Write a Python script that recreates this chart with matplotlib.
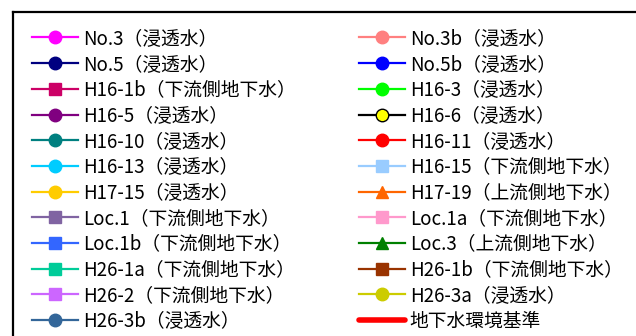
import matplotlib
matplotlib.use("Agg")
import matplotlib.pyplot as plt
from matplotlib.lines import Line2D

plt.rcParams["font.family"] = ["Noto Sans CJK JP", "DejaVu Sans"]

# legend entries, left column then right column
left_labels = [
    "No.3（浸透水）", "No.5（浸透水）", "H16-1b（下流側地下水）", "H16-5（浸透水）",
    "H16-10（浸透水）", "H16-13（浸透水）", "H17-15（浸透水）", "Loc.1（下流側地下水）",
    "Loc.1b（下流側地下水）", "H26-1a（下流側地下水）", "H26-2（下流側地下水）", "H26-3b（浸透水）",
]
left_colors = [
    "#FF00FF", "#000080", "#CC0066", "#800080", "#008080", "#00CCFF",
    "#FFCC00", "#8064A2", "#3366FF", "#00CC99", "#CC66FF", "#336699",
]
left_markers = ["o", "o", "s", "o", "o", "o", "o", "s", "s", "s", "s", "o"]

right_labels = [
    "No.3b（浸透水）", "No.5b（浸透水）", "H16-3（浸透水）", "H16-6（浸透水）",
    "H16-11（浸透水）", "H16-15（下流側地下水）", "H17-19（上流側地下水）", "Loc.1a（下流側地下水）",
    "Loc.3（上流側地下水）", "H26-1b（下流側地下水）", "H26-3a（浸透水）",
]
right_colors = [
    "#FF8080", "#0000FF", "#00FF00", "#000000", "#FF0000", "#99CCFF",
    "#FF6600", "#FF99CC", "#008000", "#993300", "#CCCC00",
]
right_faces = [
    "#FF8080", "#0000FF", "#00FF00", "#FFFF00", "#FF0000", "#99CCFF",
    "#FF6600", "#FF99CC", "#008000", "#993300", "#CCCC00",
]
right_markers = ["o", "o", "o", "o", "o", "s", "^", "s", "^", "s", "o"]

standard_label = "地下水環境基準"
standard_color = "#FF0000"

W, H = 636, 336
fig = plt.figure(figsize=(W / 100, H / 100), dpi=100)

# outer frame (cropped plot area)
ax = fig.add_axes([13 / W, -0.2, 1.0, (H - 12) / H + 0.2])
ax.set_xticks([])
ax.set_yticks([])
for sp in ax.spines.values():
    sp.set_linewidth(1.6)
    sp.set_color("black")


def make_handle(color, marker, face=None, ms=9):
    size = ms - 0.5 if marker == "s" else ms
    edge = color if face is None or face == color else "black"
    return Line2D([], [], color=color, lw=1.6, marker=marker, markersize=size,
                  markerfacecolor=face or color, markeredgecolor=edge, markeredgewidth=1.0)


left_handles = [make_handle(c, m) for c, m in zip(left_colors, left_markers)]
right_handles = [make_handle(c, m, f) for c, m, f in zip(right_colors, right_markers, right_faces)]
right_handles.append(Line2D([], [], color=standard_color, lw=4, solid_capstyle="round"))

fs = 13.5
common = dict(loc="upper left", frameon=False, fontsize=fs, handlelength=33 / fs,
              handletextpad=3.6 / fs, labelspacing=0.25, borderpad=0, borderaxespad=0)

leg1 = fig.legend(left_handles, left_labels, bbox_to_anchor=(32 / W, (H - 28) / H), **common)
leg2 = fig.legend(right_handles, right_labels + [standard_label],
                  bbox_to_anchor=(359 / W, (H - 28) / H), **common)

fig.savefig("out.png", dpi=100)
